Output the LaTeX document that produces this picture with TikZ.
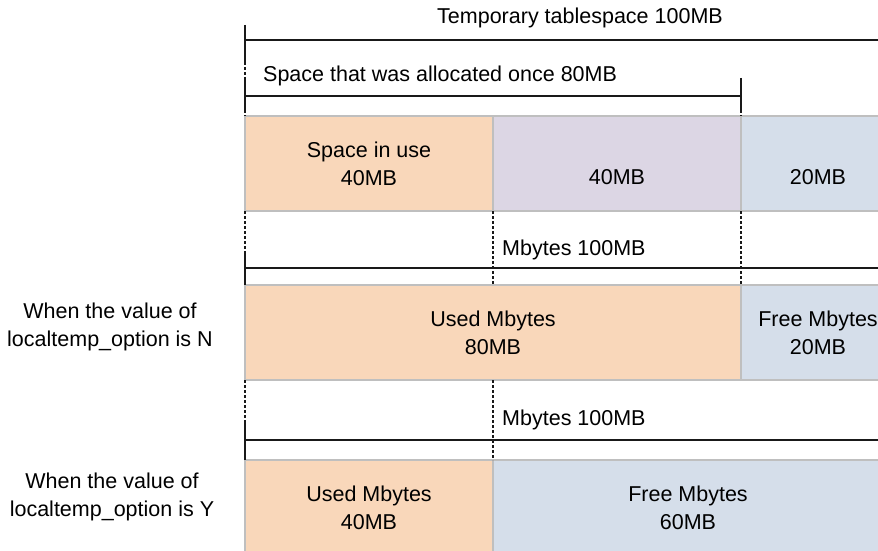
\documentclass[tikz,border=0pt]{standalone}
\usepackage{fontspec}
\setmainfont{Liberation Sans}
\usetikzlibrary{positioning}
\definecolor{UsedPeach}{HTML}{F9D7BA}
\definecolor{OncePurple}{HTML}{DCD6E4}
\definecolor{FreeBlue}{HTML}{D5DEEA}
\definecolor{EdgeGray}{HTML}{BFBFBF}
\newcommand{\diagfont}{\fontsize{21.5}{28}\selectfont}

\begin{document}
\begin{tikzpicture}[
  x=1pt, y=-1pt,
  seg/.style={rectangle,draw=EdgeGray,line width=1.8pt,minimum height=95pt,inner sep=0pt,outer sep=0pt,align=center,font=\diagfont},
  caption/.style={font=\diagfont,inner sep=0pt},
  dimline/.style={line width=1.5pt,black!90},
  guide/.style={line width=1.2pt,black!90,dash pattern=on 3pt off 2pt}
]
  \useasboundingbox (0,0) rectangle (878,551);

  % allocated space
  \node[seg,fill=UsedPeach,minimum width=248pt,anchor=north west] (inuse) at (245,116) {Space in use\\40MB};
  \node[seg,fill=OncePurple,minimum width=248pt,right=0pt of inuse] (once) {\phantom{40MB}\\40MB};
  \node[seg,fill=FreeBlue,minimum width=154pt,right=0pt of once] (rest) {\phantom{20MB}\\20MB};

  % localtemp_option N
  \node[seg,fill=UsedPeach,minimum width=496pt,anchor=north west] (usedN) at (245,285) {Used Mbytes\\80MB};
  \node[seg,fill=FreeBlue,minimum width=154pt,right=0pt of usedN] (freeN) {Free Mbytes\\20MB};

  % localtemp_option Y
  \node[seg,fill=UsedPeach,minimum width=248pt,anchor=north west] (usedY) at (245,460) {Used Mbytes\\40MB};
  \node[seg,fill=FreeBlue,minimum width=390pt,right=0pt of usedY] (freeY) {Free Mbytes\\60MB};

  % dimension lines
  \coordinate (tsL) at (245,40);
  \coordinate (tsR) at (878,40);
  \coordinate (alL) at (245,96);
  \coordinate (alR) at (741,96);
  \coordinate (mbNL) at (245,268);
  \coordinate (mbNR) at (878,268);
  \coordinate (mbYL) at (245,440);
  \coordinate (mbYR) at (878,440);

  \draw[dimline] (tsL) -- (tsR);
  \draw[dimline] ([yshift=15pt]tsL) -- ([yshift=-22pt]tsL);
  \draw[guide] ([yshift=-22pt]tsL) -- ([yshift=16pt]alL);

  \draw[dimline] (alL) -- (alR);
  \draw[dimline] ([yshift=16pt]alL) -- ([yshift=-14pt]alL);
  \draw[dimline] ([yshift=18pt]alR) -- ([yshift=-14pt]alR);
  \draw[guide] ([yshift=-14pt]alL) -- (inuse.north west);
  \draw[guide] ([yshift=-14pt]alR) -- (once.north east);

  \draw[dimline] (mbNL) -- (mbNR);
  \draw[dimline] ([yshift=16pt]mbNL) -- (usedN.north west);
  \draw[guide] (inuse.south west) -- ([yshift=16pt]mbNL);
  \draw[guide] (inuse.south east) -- (inuse.south east |- usedN.north);
  \draw[guide] (once.south east) -- (usedN.north east);

  \draw[dimline] (mbYL) -- (mbYR);
  \draw[dimline] ([yshift=18pt]mbYL) -- (usedY.north west);
  \draw[guide] (usedN.south west) -- ([yshift=18pt]mbYL);
  \draw[guide] (inuse.south east |- usedN.south) -- (usedY.north east);

  % captions
  \node[caption] (tslabel) at (580,18) {Temporary tablespace 100MB};
  \node[caption,anchor=west] (allabel) at (263,76) {Space that was allocated once 80MB};
  \node[caption,anchor=west] (mbNlabel) at (502,250) {Mbytes 100MB};
  \node[caption,anchor=west] (mbYlabel) at (502,420) {Mbytes 100MB};
  \node[caption,align=center] (optN) at (110,327) {When the value of\\localtemp\_option is N};
  \node[caption,align=center] (optY) at (112,497) {When the value of\\localtemp\_option is Y};
\end{tikzpicture}
\end{document}
